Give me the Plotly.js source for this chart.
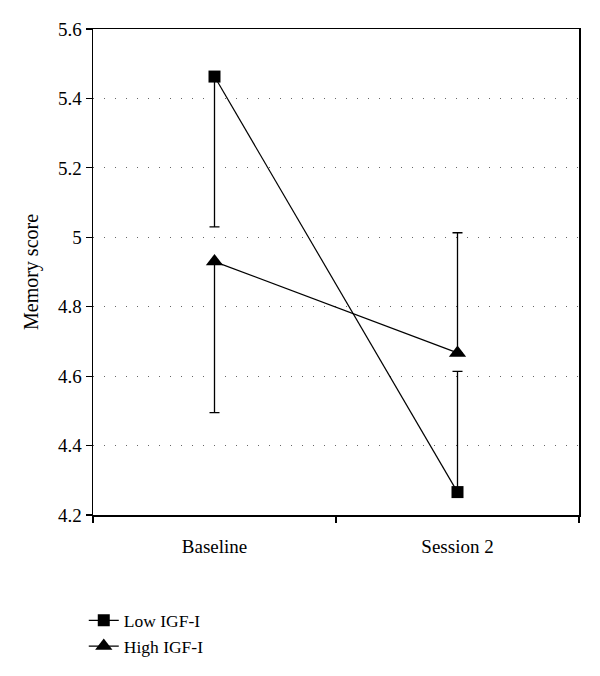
<!DOCTYPE html>
<html>
<head>
<meta charset="utf-8">
<script src="https://cdn.plot.ly/plotly-3.0.1.min.js"></script>
<style>html,body{margin:0;padding:0;background:#fff;}#chart{width:600px;height:676px;}</style>
</head>
<body>
<div id="chart"></div>
<script>
const categories = ['Baseline', 'Session 2'];
const lowIGF = [5.463, 4.266];
const lowErrPlus = [0, 0.348];
const lowErrMinus = [0.433, 0];
const highIGF = [4.930, 4.667];
const highErrPlus = [0, 0.346];
const highErrMinus = [0.435, 0];
const yTicks = [4.2, 4.4, 4.6, 4.8, 5, 5.2, 5.4, 5.6];
const yTickLabels = ['4.2', '4.4', '4.6', '4.8', '5', '5.2', '5.4', '5.6'];

const FONT = 'Liberation Serif, Times New Roman, serif';

const traces = [
  {
    x: categories, y: lowIGF, name: 'Low IGF-I', type: 'scatter', mode: 'lines+markers',
    line: {color: '#000', width: 1.2},
    marker: {symbol: 'square', size: 12, color: '#000'},
    error_y: {type: 'data', symmetric: false, array: lowErrPlus, arrayminus: lowErrMinus,
              color: '#000', thickness: 1.3, width: 5}
  },
  {
    x: categories, y: highIGF, name: 'High IGF-I', type: 'scatter', mode: 'lines+markers',
    line: {color: '#000', width: 1.2},
    marker: {symbol: 'triangle-up', size: 15, color: '#000'},
    error_y: {type: 'data', symmetric: false, array: highErrPlus, arrayminus: highErrMinus,
              color: '#000', thickness: 1.3, width: 5}
  }
];

const layout = {
  width: 600, height: 676,
  margin: {l: 93, r: 21, t: 29, b: 158},
  paper_bgcolor: '#fff', plot_bgcolor: '#fff',
  font: {family: FONT, size: 18, color: '#000'},
  showlegend: true,
  legend: {x: -0.019, xanchor: 'left', y: -0.18, yanchor: 'top', orientation: 'v',
           font: {family: FONT, size: 17.5, color: '#000'}, tracegroupgap: 0, itemsizing: 'trace'},
  xaxis: {
    type: 'category', range: [-0.5, 1.5], tickson: 'boundaries',
    showline: true, linecolor: '#000', linewidth: 1.5, mirror: true,
    ticks: 'outside', ticklen: 6, tickcolor: '#000', tickwidth: 1.2,
    showgrid: false, zeroline: false, ticklabelstandoff: 14,
    tickfont: {family: FONT, size: 19, color: '#000'}
  },
  yaxis: {
    range: [4.2, 5.6], tickmode: 'array', tickvals: yTicks, ticktext: yTickLabels,
    showline: true, linecolor: '#000', linewidth: 1.5, mirror: true,
    ticks: 'outside', ticklen: 6, tickcolor: '#000', tickwidth: 1.2,
    showgrid: true, gridcolor: '#666', gridwidth: 1, griddash: '1px,10px',
    zeroline: false,
    tickfont: {family: FONT, size: 19, color: '#000'},
    title: {text: 'Memory score', font: {family: FONT, size: 20, color: '#000'}, standoff: 14}
  }
};

Plotly.newPlot('chart', traces, layout, {displayModeBar: false, staticPlot: true});
</script>
</body>
</html>
